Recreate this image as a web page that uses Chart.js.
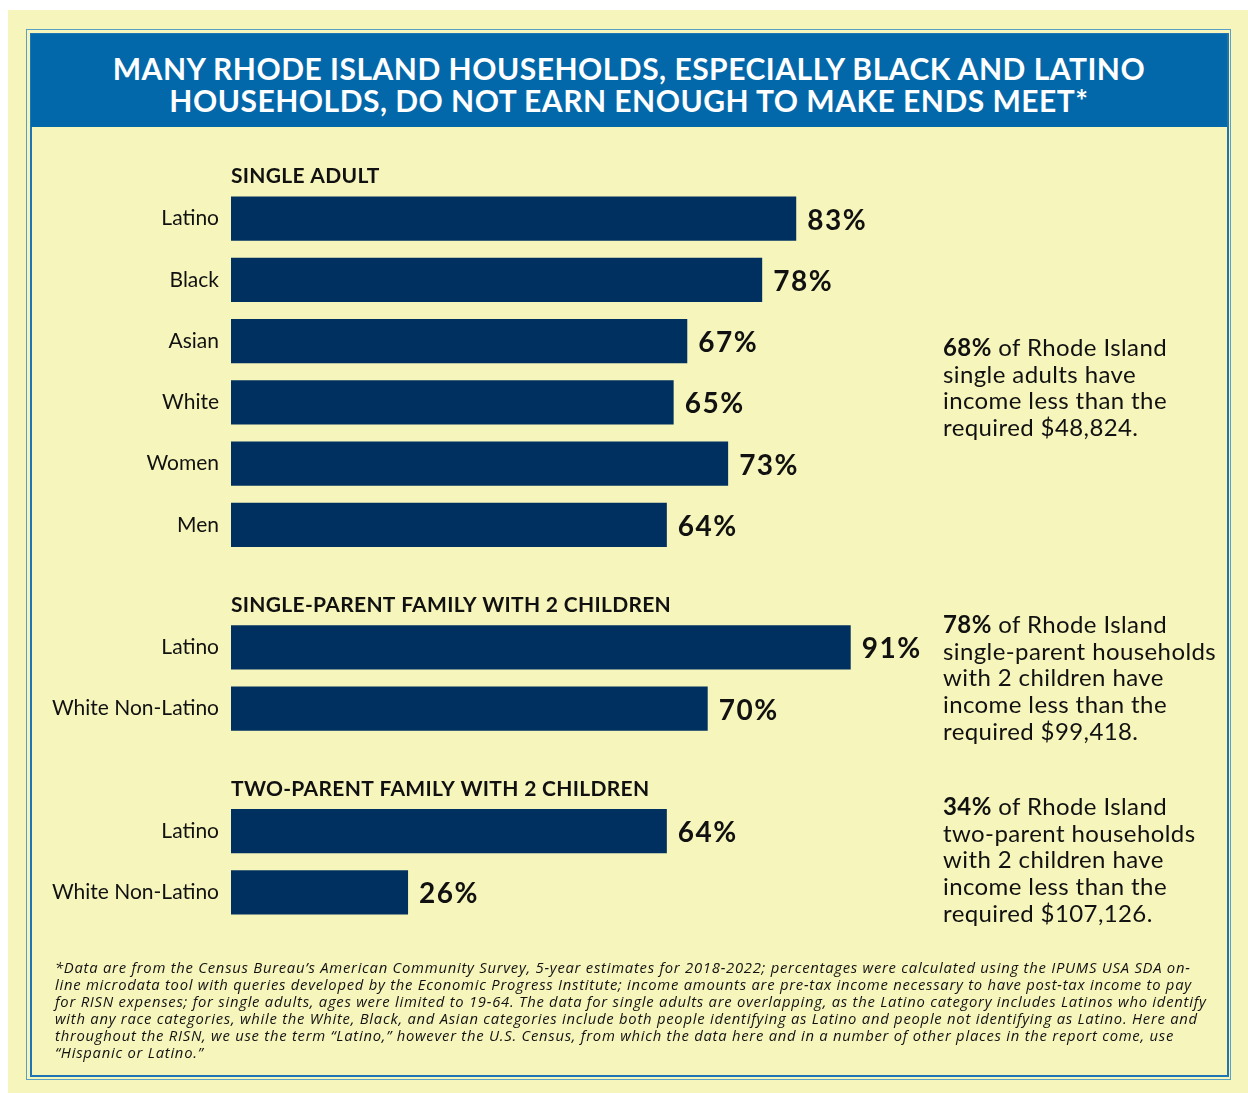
<!DOCTYPE html>
<html>
<head>
  <title>Rhode Island Households</title>
  <script src="https://cdn.jsdelivr.net/npm/chart.js"></script>
  <style>
    body {
      margin: 0;
      background-color: #fff;
      font-family: 'Lato', 'Noto Sans', sans-serif;
      color: #111;
    }
    .page {
      position: absolute;
      left: 8px; top: 10px;
      width: 1240px; height: 1083px;
      background-color: #f6f5bc;
    }
    .frame-outer {
      position: absolute;
      left: 26px; top: 29px;
      width: 1203px; height: 1049px;
      border: 1px solid #5aa0c4;
    }
    .frame-inner {
      position: absolute;
      left: 30px; top: 33px;
      width: 1195px; height: 1040px;
      border: 2px solid #1f74b4;
    }
    .title-bar {
      position: absolute;
      left: 31px; top: 34px;
      width: 1196px; height: 93px;
      background-color: #0368a9;
    }
    .title {
      position: absolute;
      left: 31px; top: 52px;
      width: 1196px;
      text-align: center;
      color: #fff;
      font-size: 30px;
      font-weight: bold;
      letter-spacing: 0.5px;
      line-height: 32px;
    }
    .chart-box {
      position: absolute;
      left: 0; top: 0;
      width: 1248px; height: 1093px;
    }
    .note {
      position: absolute;
      left: 943px;
      font-size: 24px;
      letter-spacing: 0.4px;
      line-height: 26.7px;
      white-space: nowrap;
    }
    .footnote {
      position: absolute;
      left: 55px; top: 959px;
      font-family: 'Open Sans', sans-serif;
      font-size: 14.8px;
      font-style: italic;
      letter-spacing: 0.75px;
      line-height: 16.9px;
      white-space: nowrap;
    }
  </style>
</head>
<body>
  <div class="page"></div>
  <div class="frame-outer"></div>
  <div class="frame-inner"></div>
  <div class="title-bar"></div>
  <div class="title">MANY RHODE ISLAND HOUSEHOLDS, ESPECIALLY BLACK AND LATINO<br>HOUSEHOLDS, DO NOT EARN ENOUGH TO MAKE ENDS MEET*</div>
  <div class="chart-box"><canvas id="householdChart"></canvas></div>
  <div class="note" style="top: 334px;"><b>68%</b> of Rhode Island<br>single adults have<br>income less than the<br>required $48,824.</div>
  <div class="note" style="top: 611px;"><b>78%</b> of Rhode Island<br>single-parent households<br>with 2 children have<br>income less than the<br>required $99,418.</div>
  <div class="note" style="top: 793px;"><b>34%</b> of Rhode Island<br>two-parent households<br>with 2 children have<br>income less than the<br>required $107,126.</div>
  <div class="footnote">*Data are from the Census Bureau’s American Community Survey, 5-year estimates for 2018-2022; percentages were calculated using the IPUMS USA SDA on-<br>line microdata tool with queries developed by the Economic Progress Institute; income amounts are pre-tax income necessary to have post-tax income to pay<br>for RISN expenses; for single adults, ages were limited to 19-64. The data for single adults are overlapping, as the Latino category includes Latinos who identify<br>with any race categories, while the White, Black, and Asian categories include both people identifying as Latino and people not identifying as Latino. Here and<br>throughout the RISN, we use the term “Latino,” however the U.S. Census, from which the data here and in a number of other places in the report come, use<br>“Hispanic or Latino.”</div>

  <script>
    const sectionTitles = ['SINGLE ADULT', 'SINGLE-PARENT FAMILY WITH 2 CHILDREN', 'TWO-PARENT FAMILY WITH 2 CHILDREN'];

    const singleAdultLabels = ['Latino', 'Black', 'Asian', 'White', 'Women', 'Men'];
    const singleAdultValues = [83, 78, 67, 65, 73, 64];

    const singleParentLabels = ['Latino', 'White Non-Latino'];
    const singleParentValues = [91, 70];

    const twoParentLabels = ['Latino', 'White Non-Latino'];
    const twoParentValues = [64, 26];

    // one empty row between sections
    const labels = [...singleAdultLabels, '', ...singleParentLabels, '', ...twoParentLabels];
    const values = [...singleAdultValues, null, ...singleParentValues, null, ...twoParentValues];
    const sectionStarts = [0, singleAdultLabels.length + 1, singleAdultLabels.length + singleParentLabels.length + 2];

    const barLabels = {
      id: 'barLabels',
      afterDatasetsDraw(chart) {
        const ctx = chart.ctx;
        const meta = chart.getDatasetMeta(0);
        ctx.save();
        ctx.font = 'bold 28px Lato, sans-serif';
        ctx.letterSpacing = '1.5px';
        ctx.fillStyle = '#111';
        ctx.textBaseline = 'middle';
        meta.data.forEach((bar, i) => {
          if (values[i] == null) return;
          ctx.fillText(values[i] + '%', bar.x + 11, bar.y + 2);
        });

        // section headers above first bar of each group
        const y = chart.scales.y;
        ctx.font = 'bold 21px Lato, sans-serif';
        ctx.letterSpacing = '0.3px';
        sectionStarts.forEach((idx, i) => {
          ctx.fillText(sectionTitles[i], chart.chartArea.left, y.getPixelForValue(idx) - 42);
        });
        ctx.restore();
      }
    };

    const ctx = document.getElementById('householdChart').getContext('2d');
    new Chart(ctx, {
      type: 'bar',
      data: {
        labels: labels,
        datasets: [{
          data: values,
          backgroundColor: '#00305f',
          barPercentage: 0.72,
          categoryPercentage: 1.0
        }]
      },
      options: {
        indexAxis: 'y',
        responsive: true,
        maintainAspectRatio: false,
        animation: false,
        layout: {
          padding: { left: 0, top: 188, right: 336, bottom: 170 }
        },
        plugins: {
          legend: { display: false },
          tooltip: { enabled: false }
        },
        scales: {
          x: {
            display: false,
            min: 0,
            max: 100
          },
          y: {
            grid: { display: false },
            border: { display: false },
            afterFit: function(scale) { scale.width = 231; },
            ticks: {
              padding: 4,
              color: '#111',
              font: { family: 'Lato', size: 21 }
            }
          }
        }
      },
      plugins: [barLabels]
    });
  </script>
</body>
</html>
